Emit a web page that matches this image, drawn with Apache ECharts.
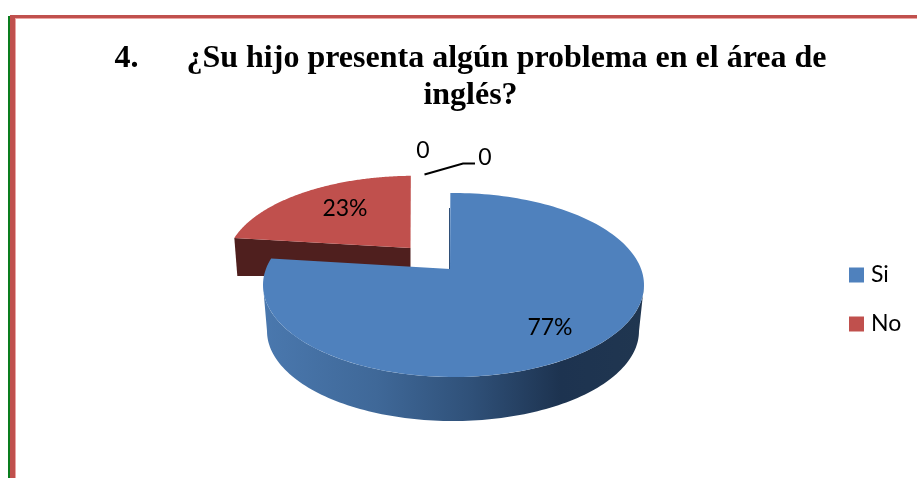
<!DOCTYPE html>
<html>
<head>
<meta charset="utf-8">
<style>html,body{margin:0;padding:0;background:#fff}#c{width:917px;height:478px}</style>
<script src="https://cdn.jsdelivr.net/npm/echarts@6/dist/echarts.min.js"></script>
</head>
<body>
<div id="c"></div>
<script>
const titleText = '4.\u00A0\u00A0\u00A0\u00A0\u00A0\u00A0¿Su hijo presenta algún problema en el área de\ninglés?';
const categories = ['Si', 'No', 'Sin dato A', 'Sin dato B'];
const values = [77, 23, 0, 0];
const colors = ['#4f81bd', '#c0504d'];

const total = values.reduce((a, b) => a + b, 0);
const LABEL_FONT = 'Lato';
const chart = echarts.init(document.getElementById('c'), null, { renderer: 'canvas' });

// Perspective pie model: the ellipse of the top face and the projected pie centre
const E = { cx: 453.5, cy: 285, rx: 190.5, ry: 92, ax: -0.009, ay: 0.0875 };
const APEX = { x: 450, y: 269 };
const RED = { x: 410.5, y: 248, sx: 0.985, sy: 0.95, depth: 38 };
const WALL = { cx: 453, cy: 331, rx: 186, ry: 90 };

function rimPoint(frac) {
  const t = frac * Math.PI * 2;
  const zx = Math.sin(t), zy = Math.cos(t);
  const nx = zx + E.ax, ny = zy + E.ay;
  const dx = 1 + E.ax * zx + E.ay * zy, dy = E.ax * zy - E.ay * zx;
  const d = dx * dx + dy * dy;
  const wx = (nx * dx + ny * dy) / d, wy = (ny * dx - nx * dy) / d;
  return [E.cx + E.rx * wx, E.cy - E.ry * wy];
}
function faceFrom(start, end) {
  const pts = [[APEX.x, APEX.y]];
  const n = 160;
  for (let i = 0; i <= n; i++) pts.push(rimPoint(start + (end - start) * i / n));
  return pts;
}
function wallPoints() {
  const pts = [];
  const n = 120;
  for (let i = 0; i <= n; i++) {
    const a = Math.PI - Math.PI * i / n;
    pts.push([E.cx + E.rx * Math.cos(a), E.cy + E.ry * Math.sin(a)]);
  }
  for (let i = n; i >= 0; i--) {
    const a = Math.PI - Math.PI * i / n;
    pts.push([WALL.cx + WALL.rx * Math.cos(a), WALL.cy + WALL.ry * Math.sin(a)]);
  }
  return pts;
}
const text = (s, x, y) => ({
  type: 'text', z2: 20,
  style: { text: s, x, y, align: 'center', verticalAlign: 'middle', fill: '#000',
           font: '23px "' + LABEL_FONT + '"' }
});
const pct = v => Math.round(v / total * 100) + '%';

function renderSi(params, api) {
  const v = api.value(0);
  const end = v / total;
  return {
    type: 'group',
    children: [
      { type: 'polygon', shape: { points: wallPoints() },
        style: { fill: new echarts.graphic.LinearGradient(0, 0, 1, 0, [
          { offset: 0, color: '#4a78ae' },
          { offset: 0.3, color: '#3f6898' },
          { offset: 0.55, color: '#2f5078' },
          { offset: 0.78, color: '#1d3350' },
          { offset: 1, color: '#203650' }
        ]) } },
      { type: 'polyline', shape: { points: [[449.5, 208], [449.5, 269]] },
        style: { stroke: '#2f4f78', lineWidth: 1, fill: 'none' } },
      { type: 'polygon', shape: { points: faceFrom(0, end) }, style: { fill: colors[0] } },
      text(pct(v), 550, 328)
    ]
  };
}
function renderNo(params, api) {
  const v = api.value(0);
  const start = values[0] / total;
  const pts = faceFrom(start, start + v / total).map(p => [
    RED.x + (p[0] - APEX.x) * RED.sx,
    RED.y + (p[1] - APEX.y) * RED.sy
  ]);
  const corner = pts[1];
  return {
    type: 'group',
    children: [
      { type: 'polygon',
        shape: { points: [corner, pts[0], [pts[0][0], pts[0][1] + RED.depth - 10],
                          [corner[0] + 3, corner[1] + RED.depth]] },
        style: { fill: '#4f1f1e' } },
      { type: 'polygon', shape: { points: pts }, style: { fill: colors[1] } },
      text(pct(v), 345, 209)
    ]
  };
}
function renderZeros(params, api) {
  const v = api.value(0);
  if (params.dataIndex === 0) return text(String(v), 423, 151);
  return {
    type: 'group',
    children: [
      text(String(v), 485, 158),
      { type: 'polyline', shape: { points: [[424.5, 174.5], [463, 163.5], [475, 163.5]] },
        style: { stroke: '#000', lineWidth: 2, fill: 'none' } }
    ]
  };
}

chart.setOption({
  animation: false,
  backgroundColor: '#ffffff',
  title: {
    text: titleText,
    left: 465.5, top: 35, textAlign: 'center',
    textStyle: { fontFamily: 'Liberation Serif', fontWeight: 'bold', fontSize: 32, lineHeight: 37, color: '#000' }
  },
  legend: {
    data: categories.slice(0, 2),
    orient: 'vertical', left: 849, top: 263.5, padding: 0,
    itemWidth: 15, itemHeight: 15, itemGap: 26, icon: 'rect',
    textStyle: { fontFamily: LABEL_FONT, fontSize: 23, color: '#000', padding: [0, 0, 0, 2] }
  },
  color: colors,
  graphic: [
    { type: 'rect', shape: { x: 8, y: 16, width: 2, height: 462 }, style: { fill: '#0a7d1e' } },
    { type: 'rect', shape: { x: 10, y: 15, width: 907, height: 3 }, style: { fill: '#c0504d' } },
    { type: 'rect', shape: { x: 10, y: 15, width: 5, height: 463 }, style: { fill: '#c0504d' } },
    { type: 'rect', shape: { x: 15, y: 18, width: 902, height: 1 }, style: { fill: '#eba5a3' } },
    { type: 'rect', shape: { x: 15, y: 18, width: 1, height: 460 }, style: { fill: '#eba5a3' } }
  ],
  series: [
    { type: 'custom', name: categories[1], coordinateSystem: 'none', z: 2, silent: true,
      itemStyle: { color: colors[1] }, data: [[values[1]]], renderItem: renderNo },
    { type: 'custom', name: categories[0], coordinateSystem: 'none', z: 3, silent: true,
      itemStyle: { color: colors[0] }, data: [[values[0]]], renderItem: renderSi },
    { type: 'custom', name: 'ceros', coordinateSystem: 'none', z: 4, silent: true,
      data: [[values[2]], [values[3]]], renderItem: renderZeros }
  ]
});
</script>
</body>
</html>
